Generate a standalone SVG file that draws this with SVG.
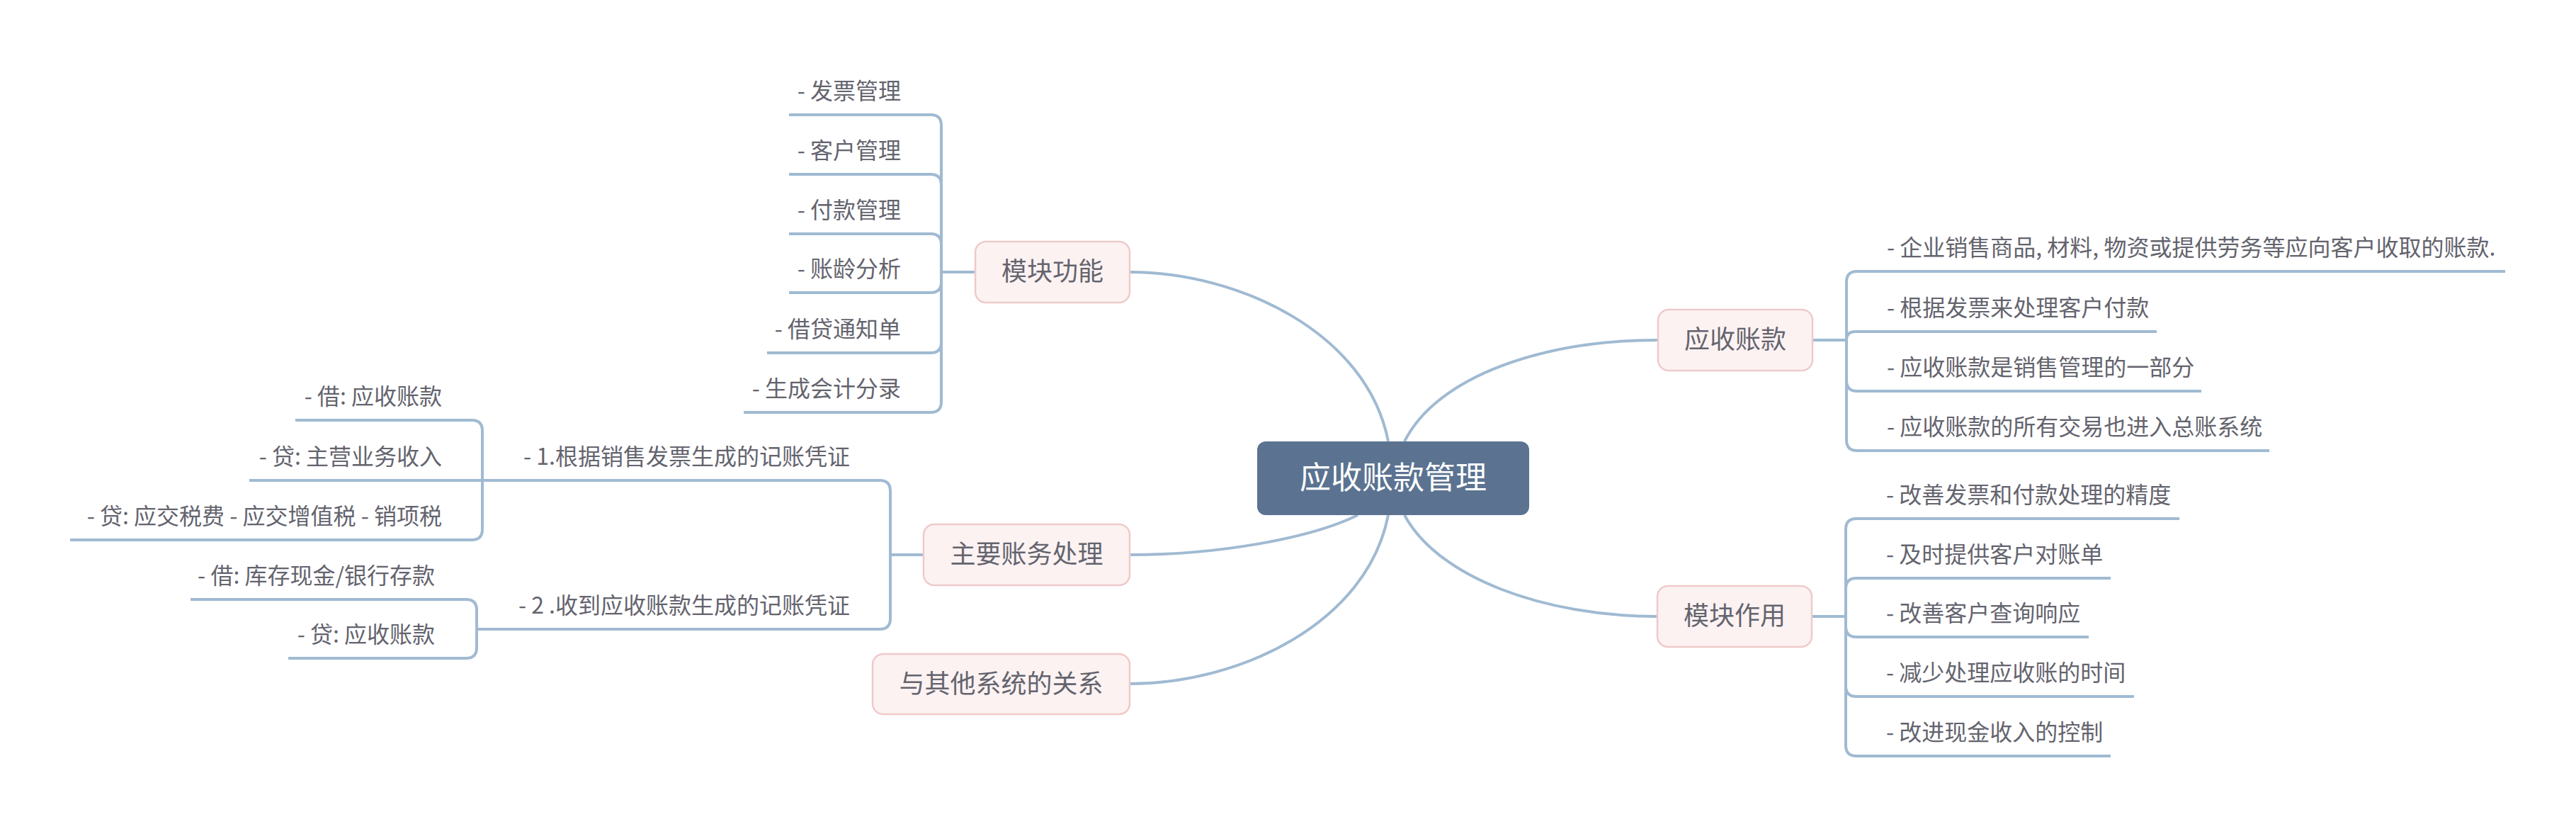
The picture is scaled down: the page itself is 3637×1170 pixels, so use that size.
<svg xmlns="http://www.w3.org/2000/svg" width="3637" height="1170" viewBox="0 0 3637 1170">
<style>
.c{fill:none;stroke:#a0bad2;stroke-width:4;stroke-linecap:butt}
.n rect{fill:#fcf2f2;stroke:#efcaca;stroke-width:2.5}
.n text{font-family:"Noto Sans CJK SC","Noto Sans",sans-serif;font-size:36px;fill:#64646e;text-anchor:middle}
.l{font-family:"Noto Sans CJK SC","Noto Sans",sans-serif;font-size:32px;fill:#64646e}
.e{text-anchor:end}
</style>
<rect width="3637" height="1170" fill="#ffffff"/>
<g id="connectors" class="c">
<path d="M1960 623 C1930 470 1750 384 1595 384"/>
<path d="M1917 727 C1850 760 1720 783 1595 783"/>
<path d="M1960 727 C1930 880 1750 965 1595 965"/>
<path d="M1983 623 C2030 530 2180 480 2341 480"/>
<path d="M1983 727 C2030 815 2180 870 2340 870"/>
<path d="M1377 384 H1329"/>
<path d="M1329 384 V177 Q1329 162 1314 162 H1114"/>
<path d="M1329 384 V261 Q1329 246 1314 246 H1114"/>
<path d="M1329 384 V345 Q1329 330 1314 330 H1114"/>
<path d="M1329 384 V398 Q1329 413 1314 413 H1114"/>
<path d="M1329 384 V483 Q1329 498 1314 498 H1083"/>
<path d="M1329 384 V567 Q1329 582 1314 582 H1050"/>
<path d="M1304 783 H1257"/>
<path d="M1257 783 V693 Q1257 678 1242 678 H681"/>
<path d="M1257 783 V873 Q1257 888 1242 888 H673"/>
<path d="M681 678 V608 Q681 593 666 593 H417"/>
<path d="M681 678 H352"/>
<path d="M681 678 V747 Q681 762 666 762 H99"/>
<path d="M673 888 V861 Q673 846 658 846 H269"/>
<path d="M673 888 V914 Q673 929 658 929 H407"/>
<path d="M2559 480 H2607"/>
<path d="M2607 480 V398 Q2607 383 2622 383 H3537"/>
<path d="M2607 480 Q2607 468 2619 468 H3045"/>
<path d="M2607 480 V537 Q2607 552 2622 552 H3108"/>
<path d="M2607 480 V621 Q2607 636 2622 636 H3204"/>
<path d="M2558 870 H2606"/>
<path d="M2606 870 V747 Q2606 732 2621 732 H3077"/>
<path d="M2606 870 V831 Q2606 816 2621 816 H2980"/>
<path d="M2606 870 V884 Q2606 899 2621 899 H2949"/>
<path d="M2606 870 V968 Q2606 983 2621 983 H3013"/>
<path d="M2606 870 V1052 Q2606 1067 2621 1067 H2980"/>
</g>
<g id="root">
<rect x="1775" y="623" width="384" height="104" rx="12" fill="#5b7391"/>
<text x="1967" y="690" font-family="Noto Sans CJK SC, Noto Sans, sans-serif" font-size="44" fill="#ffffff" text-anchor="middle">应收账款管理</text>
</g>
<g id="n-mkgn" class="n"><rect x="1377" y="341" width="218" height="86" rx="15"/><text x="1486" y="396">模块功能</text></g>
<g id="n-zyzw" class="n"><rect x="1304" y="740" width="291" height="86" rx="15"/><text x="1449.5" y="795">主要账务处理</text></g>
<g id="n-qtxt" class="n"><rect x="1232" y="923" width="363" height="85" rx="15"/><text x="1413.5" y="978">与其他系统的关系</text></g>
<g id="n-yszk" class="n"><rect x="2341" y="437" width="218" height="86" rx="15"/><text x="2450" y="492">应收账款</text></g>
<g id="n-mkzy" class="n"><rect x="2340" y="827" width="218" height="86" rx="15"/><text x="2449" y="882">模块作用</text></g>
<g id="mkgn-leaves">
<text class="l e" x="1272" y="140">- 发票管理</text>
<text class="l e" x="1272" y="224">- 客户管理</text>
<text class="l e" x="1272" y="308">- 付款管理</text>
<text class="l e" x="1272" y="391">- 账龄分析</text>
<text class="l e" x="1272" y="476">- 借贷通知单</text>
<text class="l e" x="1272" y="560">- 生成会计分录</text>
</g>
<g id="zyzw-leaves">
<text class="l e" x="1200" y="656">- 1.根据销售发票生成的记账凭证</text>
<text class="l e" x="1200" y="866">- 2 .收到应收账款生成的记账凭证</text>
<text class="l e" x="624" y="571">- 借: 应收账款</text>
<text class="l e" x="624" y="656">- 贷: 主营业务收入</text>
<text class="l e" x="624" y="740">- 贷: 应交税费 - 应交增值税 - 销项税</text>
<text class="l e" x="614" y="824">- 借: 库存现金/银行存款</text>
<text class="l e" x="614" y="907">- 贷: 应收账款</text>
</g>
<g id="yszk-leaves">
<text class="l" x="2664" y="361">- 企业销售商品, 材料, 物资或提供劳务等应向客户收取的账款.</text>
<text class="l" x="2664" y="446">- 根据发票来处理客户付款</text>
<text class="l" x="2664" y="530">- 应收账款是销售管理的一部分</text>
<text class="l" x="2664" y="614">- 应收账款的所有交易也进入总账系统</text>
</g>
<g id="mkzy-leaves">
<text class="l" x="2663" y="710">- 改善发票和付款处理的精度</text>
<text class="l" x="2663" y="794">- 及时提供客户对账单</text>
<text class="l" x="2663" y="877">- 改善客户查询响应</text>
<text class="l" x="2663" y="961">- 减少处理应收账的时间</text>
<text class="l" x="2663" y="1045">- 改进现金收入的控制</text>
</g>
</svg>
